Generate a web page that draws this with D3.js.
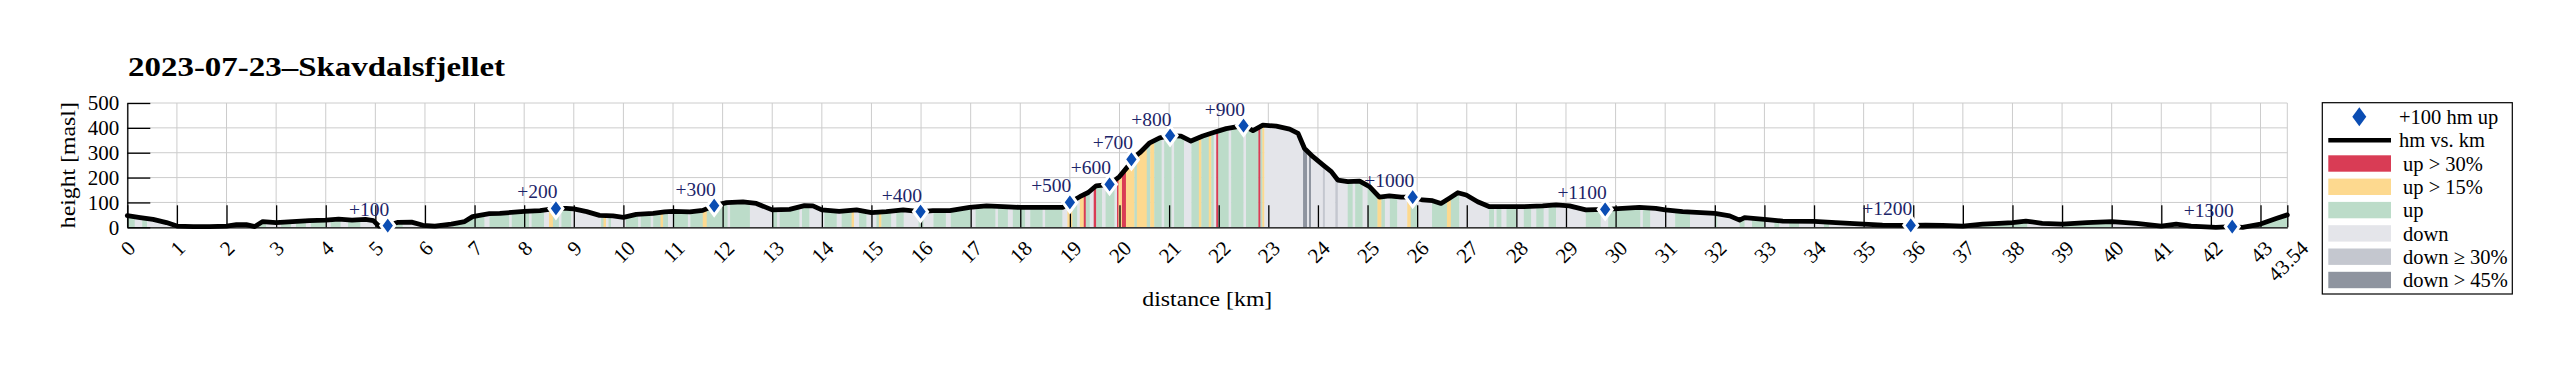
<!DOCTYPE html>
<html>
<head>
<meta charset="utf-8">
<script src="https://cdn.jsdelivr.net/npm/d3@7"></script>
<style>
body { margin: 0; background: #fff; }
text { font-family: "Liberation Serif", "DejaVu Serif", serif; }
</style>
</head>
<body>
<svg id="chart"></svg>
<script>
// elevation profile
const profileKm = [0, 0.26, 0.52, 0.79, 1.0, 1.33, 1.66, 2.0, 2.2, 2.4, 2.57, 2.73, 3.0, 3.33, 3.67, 4.0, 4.26, 4.53, 4.8, 4.96,
  5.07, 5.25, 5.46, 5.73, 5.96, 6.2, 6.53, 6.8, 6.96, 7.1, 7.3, 7.51, 8.0, 8.32, 8.64, 8.85, 9.0, 9.26, 9.52, 9.79,
  10.0, 10.26, 10.6, 10.83, 11.0, 11.34, 11.6, 11.83, 12.08, 12.41, 12.68, 13.0, 13.35, 13.65, 13.82, 14.0, 14.35, 14.7, 15.0, 15.3,
  15.64, 15.99, 16.24, 16.58, 16.98, 17.32, 17.65, 18.0, 18.39, 18.86, 19.0, 19.2, 19.37, 19.53, 19.8, 20.0, 20.17, 20.24, 20.41, 20.61,
  20.81, 21.02, 21.24, 21.44, 21.68, 21.88, 22.15, 22.5, 22.69, 22.89, 23.16, 23.43, 23.6, 23.73, 23.9, 24.1, 24.27, 24.4, 24.6, 24.84,
  25.04, 25.24, 25.44, 25.68, 25.91, 26.11, 26.31, 26.48, 26.65, 26.82, 26.99, 27.22, 27.46, 27.79, 28.13, 28.53, 28.8, 29.07, 29.4, 29.79,
  30.14, 30.48, 30.81, 31.0, 31.35, 32.0, 32.3, 32.5, 32.6, 33.0, 33.37, 34.0, 34.44, 35.0, 35.38, 35.95, 36.25, 36.59, 37.0, 37.4,
  37.73, 38.0, 38.27, 38.6, 39.0, 39.5, 40.0, 40.5, 41.0, 41.3, 41.6, 42.1, 42.43, 42.64, 43.0, 43.33, 43.54];
const profileHm = [47, 39, 32, 19, 5, 3, 3, 5, 11, 11, 3, 23, 19, 23, 27, 29, 33, 29, 32, 27,
  5, 7, 20, 21, 8, 5, 13, 23, 43, 48, 55, 56, 64, 67, 76, 76, 74, 63, 48, 46,
  40, 52, 56, 62, 64, 62, 68, 87, 99, 102, 96, 70, 72, 87, 86, 70, 64, 70, 59, 63,
  70, 63, 67, 67, 80, 86, 83, 80, 80, 80, 100, 123, 140, 167, 173, 204, 245, 273, 300, 340,
  360, 369, 367, 347, 367, 380, 397, 409, 389, 411, 407, 395, 378, 317, 284, 251, 224, 190, 184, 186,
  164, 121, 126, 121, 121, 110, 107, 96, 117, 139, 130, 103, 83, 83, 83, 86, 90, 86, 70, 72,
  76, 80, 76, 70, 63, 56, 46, 29, 39, 32, 25, 24, 19, 13, 9, 8, 9, 8, 5, 13,
  16, 19, 25, 16, 13, 19, 23, 16, 5, 13, 5, 0, 3, 0, 13, 36, 50];

// every +100 hm of climbing
const markerKm = [5.25, 8.64, 11.83, 15.99, 19.0, 19.8, 20.24, 21.02, 22.5, 25.91, 29.79, 35.95, 42.43];
const markerHm = [7, 76, 87, 63, 100, 173, 273, 369, 409, 121, 72, 8, 3];
const markerLabels = ["+100", "+200", "+300", "+400", "+500", "+600", "+700", "+800", "+900", "+1000", "+1100", "+1200", "+1300"];

// gradient classes: U up, Y up > 15%, R up > 30%, D down, G down >= 30%, K down > 45%
const segStart = [0, 0.15, 0.3, 0.4, 1.0, 1.2, 1.5, 1.6, 1.9, 2.3, 2.6, 2.8, 3.1, 3.3, 3.4, 3.6, 3.7, 4.0, 4.1, 4.3,
  4.45, 4.7, 5.4, 5.55, 6.2, 6.45, 6.55, 7.2, 7.3, 7.7, 7.75, 8.1, 8.15, 8.4, 8.5, 8.58, 8.7, 8.75, 8.95, 9.55,
  9.6, 9.65, 9.7, 9.75, 10.05, 10.3, 10.35, 10.55, 10.6, 10.75, 10.8, 10.9, 11.0, 11.3, 11.35, 11.6, 11.68, 12.1, 12.15, 12.55,
  13.0, 13.1, 13.15, 13.55, 13.6, 13.75, 14.05, 14.3, 14.4, 14.6, 14.65, 14.75, 14.9, 15.1, 15.15, 15.2, 15.4, 15.5, 15.65, 15.95,
  16.05, 16.25, 16.5, 16.6, 17.0, 17.1, 17.5, 17.55, 17.75, 17.85, 18.1, 18.2, 18.45, 18.5, 18.85, 18.95, 19.05, 19.15, 19.2, 19.28,
  19.32, 19.4, 19.48, 19.53, 19.65, 19.72, 19.9, 19.95, 19.98, 20.05, 20.13, 20.3, 20.35, 20.55, 20.62, 20.7, 20.85, 20.9, 21.05, 21.1,
  21.3, 21.45, 21.6, 21.65, 21.8, 21.85, 21.9, 21.95, 21.99, 22.2, 22.25, 22.5, 22.55, 22.8, 22.84, 22.88, 22.92, 23.7, 23.78, 23.82,
  23.86, 24.1, 24.14, 24.35, 24.4, 24.6, 24.7, 24.75, 24.9, 25.0, 25.2, 25.28, 25.35, 25.45, 25.6, 25.8, 25.87, 26.0, 26.3, 26.6,
  26.68, 26.85, 27.45, 27.55, 27.6, 27.7, 27.8, 28.0, 28.15, 28.3, 28.4, 28.55, 28.65, 28.8, 29.4, 29.7, 29.85, 30.5, 30.55, 30.7,
  31.0, 31.2, 31.5, 32.0, 32.05, 32.5, 32.6, 32.75, 33.0, 33.2, 33.3, 33.5, 33.7, 34.2, 34.3, 35.0, 36.8, 37.0, 38.3, 39.0,
  40.0, 41.0, 41.3, 42.6];
const segCat = ["U", "D", "U", "D", "U", "D", "U", "D", "U", "D", "U", "D", "U", "D", "U", "D", "U", "D", "U", "D",
  "U", "D", "U", "D", "U", "D", "U", "D", "U", "D", "U", "D", "U", "D", "Y", "U", "D", "U", "D", "U",
  "Y", "D", "U", "D", "U", "D", "U", "D", "U", "Y", "U", "D", "U", "D", "U", "Y", "U", "D", "U", "D",
  "U", "D", "U", "D", "U", "D", "U", "D", "U", "Y", "D", "U", "D", "U", "Y", "U", "D", "U", "D", "U",
  "D", "U", "D", "U", "D", "U", "D", "U", "D", "U", "D", "U", "D", "U", "D", "Y", "U", "D", "Y", "R",
  "U", "D", "R", "U", "D", "U", "D", "R", "Y", "R", "Y", "U", "Y", "U", "Y", "U", "D", "U", "D", "U",
  "D", "U", "Y", "U", "Y", "U", "D", "R", "U", "D", "U", "D", "U", "R", "U", "Y", "D", "K", "D", "K",
  "D", "G", "D", "G", "D", "U", "D", "U", "D", "U", "Y", "U", "D", "U", "D", "Y", "U", "D", "U", "Y",
  "U", "D", "U", "D", "U", "D", "U", "D", "U", "D", "U", "D", "U", "D", "U", "D", "U", "D", "U", "D",
  "D", "U", "D", "U", "D", "U", "D", "U", "D", "U", "D", "U", "D", "U", "D", "D", "U", "U", "D", "U",
  "D", "U", "D", "U"];

const xTicks = d3.range(0, 44).concat([43.54]);
const yTicks = [0, 100, 200, 300, 400, 500];

const catColors = { U: "#bcdcc9", Y: "#fdd98f", R: "#d93c55", D: "#e4e5ea", G: "#c4c7cf", K: "#8e949f" };
const legendCats = ["R", "Y", "U", "D", "G", "K"];
const legendLabels = ["up > 30%", "up > 15%", "up", "down", "down \u2265 30%", "down > 45%"];

const width = 2568;
const height = 369;

const svg = d3.select("#chart")
    .attr("width", width)
    .attr("height", height);

const x = d3.scaleLinear().domain([0, 43.54]).range([127.3, 2287.3]);
const y = d3.scaleLinear().domain([0, 500]).range([227.3, 103]);

// grid
const grid = svg.append("g").attr("stroke", "#cccccc").attr("stroke-width", 1);
grid.selectAll("line.v")
    .data(xTicks)
    .join("line")
    .attr("class", "v")
    .attr("x1", d => x(d)).attr("x2", d => x(d))
    .attr("y1", y(500)).attr("y2", y(0));
grid.selectAll("line.h")
    .data(yTicks)
    .join("line")
    .attr("class", "h")
    .attr("x1", x(0)).attr("x2", x(43.54))
    .attr("y1", d => y(d)).attr("y2", d => y(d));

const profile = profileKm.map((k, i) => [k, profileHm[i]]);

svg.append("clipPath")
    .attr("id", "under")
    .append("path")
    .attr("d", d3.area().x(d => x(d[0])).y0(y(0)).y1(d => y(d[1]))(profile));

const segs = segStart.map((s, i) => ({
    s: s,
    e: i < segStart.length - 1 ? segStart[i + 1] : 43.54,
    c: segCat[i]
}));

svg.append("g")
    .attr("clip-path", "url(#under)")
    .selectAll("rect")
    .data(segs)
    .join("rect")
    .attr("x", d => x(d.s))
    .attr("width", d => x(d.e) - x(d.s) + 0.4)
    .attr("y", y(500))
    .attr("height", y(0) - y(500))
    .attr("fill", d => catColors[d.c]);

// axes with long inward ticks
const gx = svg.append("g")
    .attr("transform", `translate(0,${y(0)})`)
    .call(d3.axisBottom(x)
        .tickValues(xTicks)
        .tickSizeInner(-22)
        .tickSizeOuter(0)
        .tickFormat(d => d === 43.54 ? "43.54" : String(d)));
gx.select(".domain").attr("stroke", "#000").attr("stroke-width", 1.3);
gx.selectAll(".tick line").attr("stroke", "#000").attr("stroke-width", 1.3);
gx.selectAll(".tick text")
    .attr("font-size", 21)
    .attr("font-family", "Liberation Serif, DejaVu Serif, serif")
    .attr("fill", "#000")
    .attr("text-anchor", "middle")
    .attr("y", 0)
    .attr("dy", "0.35em")
    .each(function () {
        const w = this.getComputedTextLength();
        const bh = (w + 14) * Math.SQRT1_2;
        d3.select(this).attr("transform", `translate(0,${12 + bh / 2}) rotate(-45)`);
    });

const gy = svg.append("g")
    .attr("transform", `translate(${x(0)},0)`)
    .call(d3.axisLeft(y)
        .tickValues(yTicks)
        .tickSizeInner(-23)
        .tickSizeOuter(0)
        .tickPadding(8));
gy.select(".domain").attr("stroke", "#000").attr("stroke-width", 1.3);
gy.selectAll(".tick line").attr("stroke", "#000").attr("stroke-width", 1.3);
gy.selectAll(".tick text")
    .attr("font-size", 21)
    .attr("font-family", "Liberation Serif, DejaVu Serif, serif")
    .attr("fill", "#000");

// profile line
svg.append("path")
    .datum(profile)
    .attr("fill", "none")
    .attr("stroke", "#000")
    .attr("stroke-width", 4.8)
    .attr("stroke-linejoin", "round")
    .attr("stroke-linecap", "round")
    .attr("d", d3.line().x(d => x(d[0])).y(d => y(d[1])));

// +100 markers
const diamond = "M0,-9.5L7,0L0,9.5L-7,0Z";
const markers = markerKm.map((k, i) => ({ k: k, h: markerHm[i], label: markerLabels[i] }));

svg.append("g")
    .selectAll("path")
    .data(markers)
    .join("path")
    .attr("d", diamond)
    .attr("transform", d => `translate(${x(d.k)},${y(d.h)})`)
    .attr("fill", "#0b4db3")
    .attr("stroke", "#fff")
    .attr("stroke-width", 3);

svg.append("g")
    .selectAll("text")
    .data(markers)
    .join("text")
    .attr("x", d => x(d.k) + 1.5)
    .attr("y", d => y(d.h) - 10)
    .attr("text-anchor", "end")
    .attr("font-size", 19.5)
    .attr("fill", "#1c2468")
    .text(d => d.label);

// titles
svg.append("text")
    .attr("x", 128)
    .attr("y", 76)
    .attr("font-size", 27)
    .attr("font-weight", "bold")
    .attr("fill", "#000")
    .attr("textLength", 377)
    .attr("lengthAdjust", "spacingAndGlyphs")
    .text("2023-07-23\u2013Skavdalsfjellet");

svg.append("text")
    .attr("x", (x(0) + x(43.54)) / 2 - 65)
    .attr("y", 306)
    .attr("font-size", 22)
    .attr("fill", "#000")
    .attr("textLength", 130)
    .attr("lengthAdjust", "spacingAndGlyphs")
    .text("distance [km]");

svg.append("text")
    .attr("transform", `translate(75,${(y(0) + y(500)) / 2 + 63}) rotate(-90)`)
    .attr("font-size", 22)
    .attr("fill", "#000")
    .attr("textLength", 126)
    .attr("lengthAdjust", "spacingAndGlyphs")
    .text("height [masl]");

// legend
const legend = svg.append("g");
legend.append("rect")
    .attr("x", 2322.3).attr("y", 102.7)
    .attr("width", 190).attr("height", 191.3)
    .attr("fill", "#fff")
    .attr("stroke", "#000")
    .attr("stroke-width", 1.2);

legend.append("path")
    .attr("d", diamond)
    .attr("transform", "translate(2359.3,116.7)")
    .attr("fill", "#0b4db3");
legend.append("text")
    .attr("x", 2399).attr("y", 116.7).attr("dy", "0.35em")
    .attr("font-size", 20.5)
    .text("+100 hm up");

legend.append("line")
    .attr("x1", 2328.3).attr("x2", 2391)
    .attr("y1", 140.3).attr("y2", 140.3)
    .attr("stroke", "#000")
    .attr("stroke-width", 4.5);
legend.append("text")
    .attr("x", 2399).attr("y", 140.3).attr("dy", "0.35em")
    .attr("font-size", 20.5)
    .text("hm vs. km");

const rows = legend.selectAll("g.row")
    .data(legendCats)
    .join("g")
    .attr("class", "row")
    .attr("transform", (d, i) => `translate(0,${163.5 + i * 23.3})`);
rows.append("rect")
    .attr("x", 2328.3).attr("y", -8.2)
    .attr("width", 62.7).attr("height", 16.4)
    .attr("fill", d => catColors[d]);
rows.append("text")
    .attr("x", 2403).attr("y", 0).attr("dy", "0.35em")
    .attr("font-size", 20.5)
    .text((d, i) => legendLabels[i]);
</script>
</body>
</html>
